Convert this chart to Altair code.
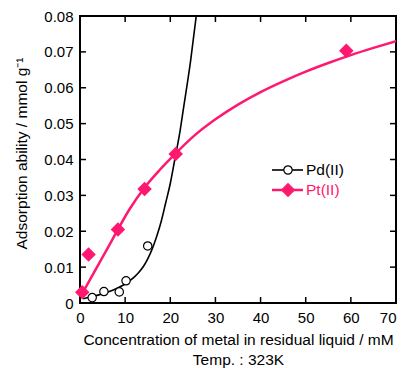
import altair as alt
import pandas as pd

# ---- data ----
pd_x = [2.7, 5.3, 8.7, 10.2, 15.0]
pd_y = [0.0015, 0.0032, 0.0031, 0.0062, 0.0159]

pt_x = [0.5, 1.9, 8.4, 14.3, 21.2, 59.0]
pt_y = [0.0030, 0.0135, 0.0205, 0.0318, 0.0415, 0.0703]

pd_fit_x = [0.7, 2, 4, 6, 8, 10, 12, 13, 14, 15, 16, 17, 18, 19, 20, 21, 22, 23, 24, 24.5, 25, 25.8]
pd_fit_y = [0.0012, 0.0016, 0.0022, 0.0030, 0.0040, 0.0053, 0.0072, 0.0085, 0.0101, 0.0123,
            0.0151, 0.0186, 0.0228, 0.0280, 0.0333, 0.0400, 0.0467, 0.0549, 0.0631, 0.0675,
            0.0725, 0.0805]

pt_fit_x = [0.3, 2, 4.2, 6, 8, 10.9, 14.2, 17.6, 20.9, 25, 30, 35, 40, 45, 50, 55, 60, 65, 70]
pt_fit_y = [0.0022, 0.0060, 0.0110, 0.0150, 0.0196, 0.0260, 0.0320, 0.0370, 0.0413, 0.0463,
            0.0512, 0.0553, 0.0588, 0.0618, 0.0645, 0.0669, 0.0691, 0.0711, 0.0730]

x_ticks = [0, 10, 20, 30, 40, 50, 60, 70]
y_ticks = [0, 0.01, 0.02, 0.03, 0.04, 0.05, 0.06, 0.07, 0.08]

series_names = ["Pd(II)", "Pt(II)"]
PINK = "#FF1870"
FONT = "Liberation Sans"

W, H = 316, 287
TL = 6  # inward tick length

xs = alt.Scale(domain=[0, 70], nice=False)
ys = alt.Scale(domain=[0, 0.08], nice=False)

pdpts = pd.DataFrame({"x": pd_x, "y": pd_y})
ptpts = pd.DataFrame({"x": pt_x, "y": pt_y})
pdfit = pd.DataFrame({"x": pd_fit_x, "y": pd_fit_y})
ptfit = pd.DataFrame({"x": pt_fit_x, "y": pt_fit_y})
xt = pd.DataFrame({"x": x_ticks})
yt = pd.DataFrame({"y": y_ticks})

xaxis = alt.Axis(values=x_ticks, ticks=False, domain=False, grid=False, labelPadding=7,
                 labelFlush=False, labelOverlap=False, labelBound=False,
                 labelAlign={"condition": {"test": "datum.value >= 70", "value": "right"},
                             "value": "center"},
                 labelFontSize=15, labelFont=FONT, labelColor="black",
                 title=["Concentration of metal in residual liquid / mM", "Temp. : 323K"],
                 titleFontSize=15.5, titleFont=FONT, titleFontWeight="normal",
                 titleColor="black", titlePadding=7, titleLineHeight=20)
yaxis = alt.Axis(values=y_ticks, ticks=False, domain=False, grid=False, labelPadding=7,
                 labelFlush=False, labelOverlap=False, labelBound=False,
                 format="~g", labelFontSize=15, labelFont=FONT, labelColor="black",
                 title="Adsorption ability / mmol g\u207b\u00b9",
                 titleFontSize=15.5, titleFont=FONT, titleFontWeight="normal",
                 titleColor="black", titlePadding=14, titleY=137)

X = alt.X("x:Q", scale=xs, axis=xaxis)
Y = alt.Y("y:Q", scale=ys, axis=yaxis)

pt_line = alt.Chart(ptfit).mark_line(color=PINK, strokeWidth=2.5, interpolate="monotone", clip=True).encode(
    x=X, y=Y)
pd_line = alt.Chart(pdfit).mark_line(color="black", strokeWidth=1.6, interpolate="monotone", clip=True).encode(
    x=X, y=Y)
pd_pts = alt.Chart(pdpts).mark_point(shape="circle", size=70, filled=True, fill="white",
                                     stroke="black", strokeWidth=1.2, opacity=1).encode(x=X, y=Y)
pt_pts = alt.Chart(ptpts).mark_point(shape="diamond", size=210, filled=True, color=PINK,
                                     opacity=1).encode(x=X, y=Y)

tick_style = dict(color="black", strokeWidth=1.5)
bx = alt.Chart(xt).mark_rule(**tick_style).encode(x=X, y=alt.value(H), y2=alt.value(H - TL))
tx = alt.Chart(xt).mark_rule(**tick_style).encode(x=X, y=alt.value(0), y2=alt.value(TL))
ly = alt.Chart(yt).mark_rule(**tick_style).encode(y=Y, x=alt.value(0), x2=alt.value(TL))
ry = alt.Chart(yt).mark_rule(**tick_style).encode(y=Y, x=alt.value(W), x2=alt.value(W - TL))

# legend (layout only)
leg = pd.DataFrame({"name": series_names, "row": [0, 1]})
LX0, LX1, LM, LT = 192, 223, 208, 226
LY = [154, 174]
leg_pd = leg[leg.name == "Pd(II)"]
leg_pt = leg[leg.name == "Pt(II)"]
lg_pd_line = alt.Chart(leg_pd).mark_rule(color="black", strokeWidth=1.6).encode(
    x=alt.value(LX0), x2=alt.value(LX1), y=alt.value(LY[0]))
lg_pd_pt = alt.Chart(leg_pd).mark_point(shape="circle", size=70, filled=True, fill="white",
                                        stroke="black", strokeWidth=1.2, opacity=1).encode(
    x=alt.value(LM), y=alt.value(LY[0]))
lg_pd_txt = alt.Chart(leg_pd).mark_text(align="left", baseline="middle", fontSize=15.5, font=FONT,
                                        color="black").encode(
    x=alt.value(LT), y=alt.value(LY[0]), text="name:N")
lg_pt_line = alt.Chart(leg_pt).mark_rule(color=PINK, strokeWidth=2.5).encode(
    x=alt.value(LX0), x2=alt.value(LX1), y=alt.value(LY[1]))
lg_pt_pt = alt.Chart(leg_pt).mark_point(shape="diamond", size=210, filled=True, color=PINK,
                                        opacity=1).encode(x=alt.value(LM), y=alt.value(LY[1]))
lg_pt_txt = alt.Chart(leg_pt).mark_text(align="left", baseline="middle", fontSize=15.5, font=FONT,
                                        color=PINK).encode(
    x=alt.value(LT), y=alt.value(LY[1]), text="name:N")

chart = alt.layer(
    pt_line, pd_line, pd_pts, pt_pts, bx, tx, ly, ry,
    lg_pd_line, lg_pd_pt, lg_pd_txt, lg_pt_line, lg_pt_pt, lg_pt_txt
).properties(
    width=W, height=H,
    autosize=alt.AutoSizeParams(type="none"),
    padding={"left": 72, "top": 8, "right": 2, "bottom": 65},
    background="white",
).configure_view(stroke="black", strokeWidth=2).configure_axis(labelOverlap=False)

chart.save("out.html", embed_options={"renderer": "svg", "actions": False})
